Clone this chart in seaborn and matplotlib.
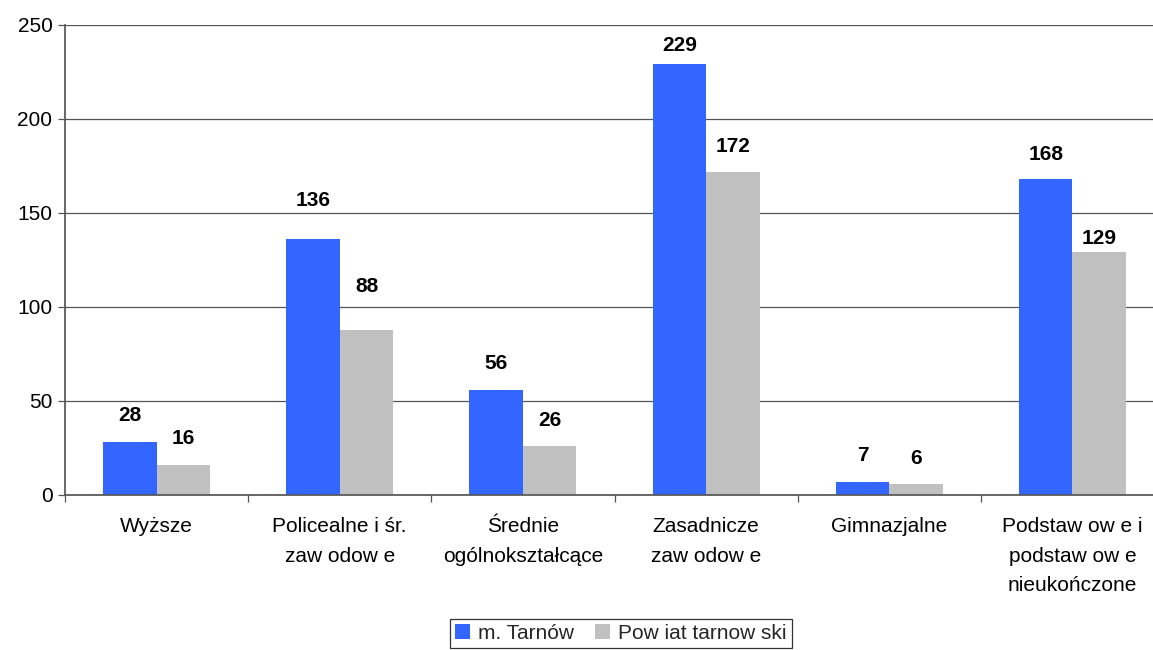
import numpy as np
import pandas as pd
import seaborn as sns
import matplotlib.pyplot as plt
from matplotlib.ticker import FixedLocator, NullFormatter

categories = ['Wyższe', 'Policealne i śr.\nzaw odow e', 'Średnie\nogólnokształcące',
              'Zasadnicze\nzaw odow e', 'Gimnazjalne',
              'Podstaw ow e i\npodstaw ow e\nnieukończone']
series = ['m. Tarnów', 'Pow iat tarnow ski']
tarnow = [28, 136, 56, 229, 7, 168]
powiat = [16, 88, 26, 172, 6, 129]
colors = ['#3366FF', '#C0C0C0']

# odstęp etykiet od słupków (pt), jak w oryginale
label_pad = [[12.5, 21, 12, 6.5, 12, 11],
             [12, 24, 11.5, 11, 11, 3.5]]

df = pd.DataFrame({
    'kat': categories * 2,
    'seria': [series[0]] * 6 + [series[1]] * 6,
    'wartosc': tarnow + powiat,
})

sns.set_theme(style='white')
plt.rcParams['font.family'] = ['Liberation Sans', 'DejaVu Sans']

fig = plt.figure(figsize=(11.53, 6.5), dpi=100)
ax = fig.add_axes([65 / 1153, 155 / 650, 1099 / 1153, 470 / 650])

sns.barplot(data=df, x='kat', y='wartosc', hue='seria', palette=colors,
            width=0.585, saturation=1, linewidth=0, ax=ax, legend=True)

for cont, pads in zip(ax.containers, label_pad):
    for bar, pad in zip(cont, pads):
        ax.annotate(f'{bar.get_height():.0f}',
                    (bar.get_x() + bar.get_width() / 2, bar.get_height()),
                    xytext=(0, pad), textcoords='offset points',
                    ha='center', va='bottom', fontsize=15, fontweight='bold', color='black')

ax.set_xlim(-0.5, 5.5)
ax.set_ylim(0, 250)
ax.set_yticks(np.arange(0, 251, 50))
ax.yaxis.grid(True, color='#555555', linewidth=0.9)
ax.set_axisbelow(True)
ax.set_xlabel('')
ax.set_ylabel('')

for s in ['top', 'right']:
    ax.spines[s].set_visible(False)
ax.spines['left'].set_color('#555555')
ax.spines['bottom'].set_color('#555555')

ax.tick_params(axis='y', labelsize=15, colors='black', length=5, width=0.9,
               direction='out', left=True, color='#555555', pad=4)
ax.tick_params(axis='x', which='major', labelsize=15, colors='black', length=0, pad=16)
ax.xaxis.set_minor_locator(FixedLocator(np.arange(-0.5, 6, 1)))
ax.xaxis.set_minor_formatter(NullFormatter())
ax.tick_params(axis='x', which='minor', length=5, width=0.9, color='#555555',
               direction='out', bottom=True)
for lbl in ax.get_xticklabels():
    lbl.set_linespacing(1.7)
    lbl.set_verticalalignment('top')

handles, labels = ax.get_legend_handles_labels()
ax.get_legend().remove()
leg = fig.legend(handles, labels, loc='lower center', bbox_to_anchor=(621 / 1153, 2 / 650),
                 ncol=2, fontsize=15, frameon=True, fancybox=False,
                 handlelength=0.7, handleheight=0.7, handletextpad=0.4, columnspacing=1.0,
                 borderpad=0.25, borderaxespad=0)
leg.get_frame().set_edgecolor('black')
leg.get_frame().set_linewidth(0.9)

fig.savefig('out.png', dpi=100)
